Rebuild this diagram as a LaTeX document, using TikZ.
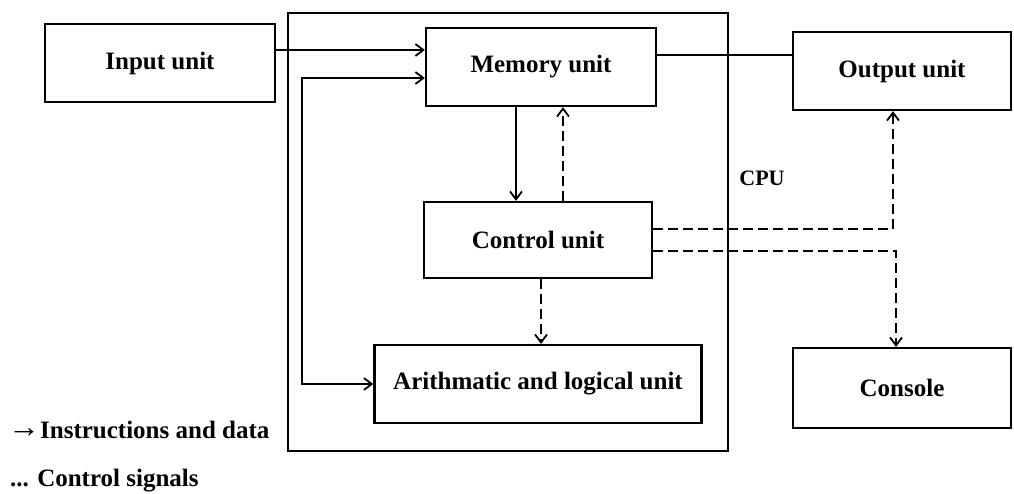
\documentclass[tikz,border=0pt]{standalone}
\usepackage{fontspec}
\setmainfont{Liberation Serif}
\usetikzlibrary{arrows.meta}
\begin{document}
\begin{tikzpicture}[x=1pt,y=-1pt,
  box/.style={draw,line width=2.2pt,minimum width=#1,inner sep=0pt,font=\bfseries\fontsize{25}{28}\selectfont},
  box/.default=230pt,
  solidln/.style={line width=2pt},
  dashln/.style={line width=2pt,dash pattern=on 10pt off 5pt},
  arr/.style={-{Straight Barb[length=8pt,width=12pt,line width=1.8pt]}},
  arrb/.style={{Straight Barb[length=8pt,width=12pt,line width=1.8pt]}-{Straight Barb[length=8pt,width=12pt,line width=1.8pt]}},
  lbl/.style={anchor=west,inner sep=0pt,font=\bfseries\fontsize{25}{28}\selectfont}]
\useasboundingbox (0,0) rectangle (1014,493);
\node[draw,line width=2.2pt,minimum width=440pt,minimum height=438pt,inner sep=0pt] (cpu) at (508,232) {};
\node[box=230pt,minimum height=78pt] (input) at (160,63) {Input unit};
\node[box=230pt,minimum height=78pt] (memory) at (541,67) {Memory unit};
\node[box=218pt,minimum height=78pt] (output) at (902,71) {Output unit};
\node[box=228pt,minimum height=76pt] (control) at (538,240) {Control unit};
\node[box=327pt,minimum height=78pt] (alu) at (538,384) {Arithmatic and logical unit};
\node[box=218pt,minimum height=80pt] (console) at (902,388) {Console};
\node[font=\bfseries\fontsize{22}{24}\selectfont,inner sep=0pt] (cpulbl) at (762,178) {CPU};
\coordinate (loop) at (302,200);
\coordinate (xa) at (516,0);
\coordinate (xb) at (563,0);
\coordinate (xc) at (541,0);
\coordinate (xo) at (893,0);
\coordinate (xk) at (896,0);
\draw[solidln,arr] ([yshift=13pt]input.east) -- ([yshift=13pt]input.east -| memory.west);
\draw[solidln,arrb] ([yshift=-11pt]memory.west) -| (loop) |- (alu.west);
\draw[solidln] ([yshift=12pt]memory.east) -- ([yshift=12pt]memory.east -| output.west);
\draw[solidln,arr] (memory.south -| xa) -- (control.north -| xa);
\draw[dashln,arr] (control.north -| xb) -- (memory.south -| xb);
\draw[dashln,arr] (control.south -| xc) -- (alu.north -| xc);
\draw[dashln,arr] ([yshift=11pt]control.east) -| (output.south -| xo);
\draw[dashln,arr] ([yshift=-11pt]control.east) -| (console.north -| xk);
\node[lbl] (leg1) at (8,430) {\raisebox{1pt}{\fontsize{32}{28}\selectfont →}Instructions and data};
\node[lbl] (leg2) at (10,481) {... Control signals};
\end{tikzpicture}
\end{document}
